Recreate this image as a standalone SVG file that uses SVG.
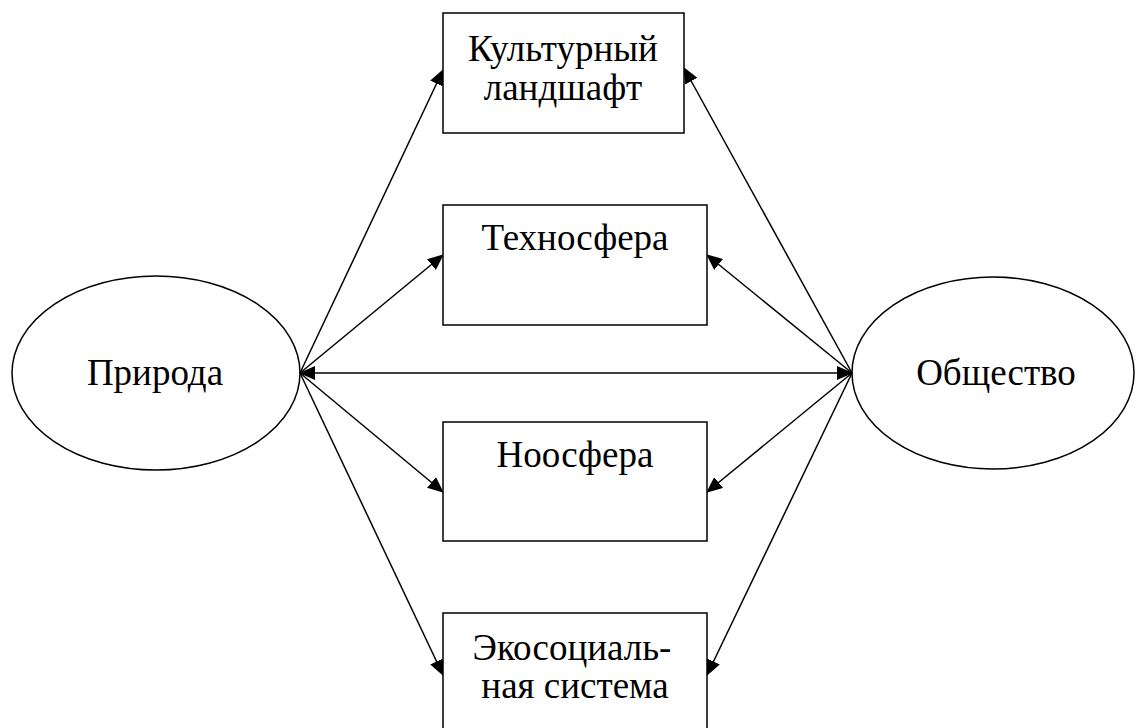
<svg xmlns="http://www.w3.org/2000/svg" width="1136" height="728" viewBox="0 0 1136 728">
<defs>
<marker id="ah" markerWidth="16" markerHeight="14" refX="15" refY="7" orient="auto-start-reverse" markerUnits="userSpaceOnUse">
<path d="M0,0 L16,7 L0,14 Z" fill="#000"/>
</marker>
<style>
.box{fill:#fff;stroke:#000;stroke-width:1.5}
.ell{fill:none;stroke:#000;stroke-width:1.5}
.t{font-family:'Liberation Serif','DejaVu Serif',serif;font-size:37px;fill:#000;text-anchor:middle}
.c{stroke:#000;stroke-width:1.5;fill:none;marker-end:url(#ah)}
</style>
</defs>
<rect width="1136" height="728" fill="#fff"/>
<g id="connectors">
<line class="c" x1="300" y1="373" x2="443" y2="70"/>
<line class="c" x1="300" y1="373" x2="443" y2="255"/>
<line class="c" x1="300" y1="373" x2="443" y2="492"/>
<line class="c" x1="300" y1="373" x2="443" y2="675"/>
<line class="c" x1="852" y1="373" x2="684" y2="68"/>
<line class="c" x1="852" y1="373" x2="707" y2="255"/>
<line class="c" x1="852" y1="373" x2="707" y2="492"/>
<line class="c" x1="852" y1="373" x2="707" y2="675"/>
<line class="c" x1="300" y1="373" x2="852" y2="373" style="marker-start:url(#ah)"/>
</g>
<g id="priroda">
<ellipse class="ell" cx="156" cy="373" rx="144" ry="97"/>
<text class="t" x="155" y="385">Природа</text>
</g>
<g id="obshchestvo">
<ellipse class="ell" cx="993" cy="373" rx="141" ry="96"/>
<text class="t" x="996" y="385">Общество</text>
</g>
<g id="kult">
<rect class="box" x="443" y="13" width="241" height="120"/>
<text class="t" x="563" y="61">Культурный</text>
<text class="t" x="563" y="100">ландшафт</text>
</g>
<g id="tekhno">
<rect class="box" x="443" y="205" width="264" height="120"/>
<text class="t" x="575" y="250">Техносфера</text>
</g>
<g id="noo">
<rect class="box" x="443" y="422" width="264" height="119"/>
<text class="t" x="575" y="467">Ноосфера</text>
</g>
<g id="eko">
<rect class="box" x="443" y="613" width="264" height="122"/>
<text class="t" x="572" y="660">Экосоциаль-</text>
<text class="t" x="575" y="698">ная система</text>
</g>
</svg>
